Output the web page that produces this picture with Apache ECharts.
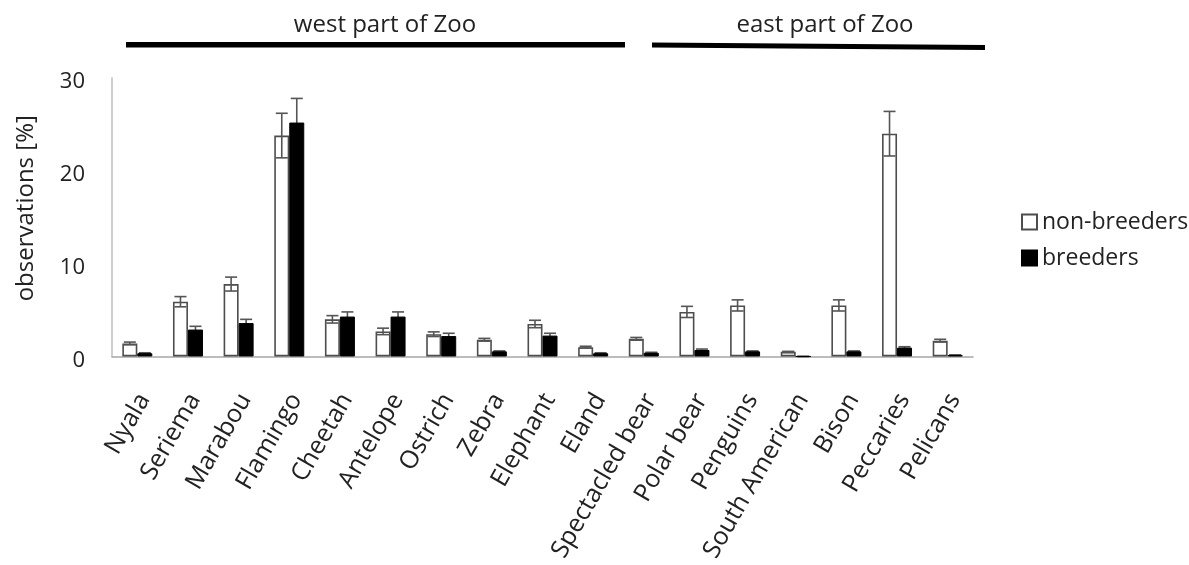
<!DOCTYPE html>
<html>
<head>
<meta charset="utf-8">
<style>
  html, body { margin: 0; padding: 0; background: #fff; }
  #chart { width: 1189px; height: 565px; }
</style>
<script src="https://cdn.jsdelivr.net/npm/echarts@6/dist/echarts.min.js"></script>
</head>
<body>
<div id="chart"></div>
<script>
// Share of observations per enclosure, split by breeding status
const categories = ['Nyala', 'Seriema', 'Marabou', 'Flamingo', 'Cheetah', 'Antelope', 'Ostrich', 'Zebra',
  'Elephant', 'Eland', 'Spectacled bear', 'Polar bear', 'Penguins', 'South American', 'Bison', 'Peccaries', 'Pelicans'];
const nonBreeders    = [1.4, 5.9, 7.8, 23.8, 4.0, 2.7, 2.4, 1.8, 3.5, 1.0, 1.9, 4.8, 5.5, 0.5, 5.5, 24.0, 1.7];
const nonBreedersErr = [0.15, 0.55, 0.75, 2.4, 0.4, 0.35, 0.25, 0.15, 0.4, 0.1, 0.15, 0.6, 0.6, 0.05, 0.6, 2.4, 0.15];
const breeders       = [0.35, 2.9, 3.6, 25.2, 4.3, 4.3, 2.2, 0.55, 2.25, 0.35, 0.4, 0.7, 0.55, 0, 0.55, 0.95, 0.15];
const breedersErr    = [0.05, 0.35, 0.4, 2.6, 0.5, 0.5, 0.3, 0.05, 0.25, 0.05, 0.05, 0.1, 0.05, 0, 0.05, 0.1, 0.03];
const yTicks = [0, 10, 20, 30];

const FONT = "'Open Sans', sans-serif";
const TEXT = '#222';
const BAR_W = 15;
const CAP_W = 12;

const chart = echarts.init(document.getElementById('chart'));

// whisker drawn at a bar's centre: vertical line from value-err to value+err with caps
function errorBar(values, errs, shift) {
  return function (params, api) {
    const i = api.value(0);
    const v = values[i], e = errs[i];
    const c = api.coord([i, v]);
    const x = c[0] + shift;
    const hi = api.coord([i, v + e])[1];
    const lo = api.coord([i, Math.max(0, v - e)])[1];
    const style = { stroke: '#555', lineWidth: 1.6 };
    return {
      type: 'group',
      children: [
        { type: 'line', shape: { x1: x, y1: lo, x2: x, y2: hi }, style },
        { type: 'line', shape: { x1: x - CAP_W / 2, y1: hi, x2: x + CAP_W / 2, y2: hi }, style },
        { type: 'line', shape: { x1: x - CAP_W / 2, y1: lo, x2: x + CAP_W / 2, y2: lo }, style }
      ]
    };
  };
}

const idx = categories.map((_, i) => [i]);

chart.setOption({
  backgroundColor: '#fff',
  animation: false,
  grid: { left: 112, right: 216, top: 78, bottom: 205 },
  legend: {
    data: ['non-breeders', 'breeders'],
    orient: 'vertical',
    left: 1016,
    top: 204,
    itemWidth: 15,
    itemHeight: 15,
    itemGap: 10,
    icon: 'rect',
    textStyle: { fontFamily: FONT, fontSize: 23, color: TEXT, lineHeight: 26 }
  },
  xAxis: {
    type: 'category',
    data: categories,
    axisLine: { lineStyle: { color: '#a6a6a6', width: 1.5 } },
    axisTick: { show: false },
    axisLabel: {
      interval: 0,
      rotate: 60,
      verticalAlign: 'top',
      lineHeight: 16,
      margin: 35,
      fontFamily: FONT,
      fontSize: 25,
      color: TEXT
    }
  },
  yAxis: {
    type: 'value',
    min: 0,
    max: 30,
    interval: 10,
    name: 'observations [%]',
    nameLocation: 'middle',
    nameGap: 74,
    nameTextStyle: { fontFamily: FONT, fontSize: 24, color: TEXT, padding: [0, 0, 0, 18] },
    axisLine: { show: true, lineStyle: { color: '#bfbfbf', width: 1.5 } },
    axisTick: { show: false },
    splitLine: { show: false },
    axisLabel: {
      margin: 27,
      verticalAlign: 'top',
      lineHeight: 8,
      fontFamily: FONT,
      fontSize: 22,
      color: TEXT,
      formatter: v => (yTicks.includes(v) ? String(v) : '')
    }
  },
  series: [
    {
      name: 'non-breeders',
      type: 'bar',
      data: nonBreeders,
      barWidth: BAR_W,
      barGap: '0%',
      z: 2,
      itemStyle: { color: '#fff', borderColor: '#4d4d4d', borderWidth: 1.6 }
    },
    {
      name: 'breeders',
      type: 'bar',
      data: breeders,
      barWidth: BAR_W,
      barGap: '0%',
      z: 2,
      itemStyle: { color: '#000', borderColor: '#000', borderWidth: 1 }
    },
    {
      name: 'nb-err',
      type: 'custom',
      data: idx,
      z: 3,
      renderItem: errorBar(nonBreeders, nonBreedersErr, -BAR_W / 2),
      encode: { x: 0 }
    },
    {
      name: 'b-err',
      type: 'custom',
      data: idx,
      z: 1,
      renderItem: errorBar(breeders, breedersErr, BAR_W / 2),
      encode: { x: 0 }
    }
  ],
  graphic: [
    {
      type: 'text',
      style: { text: 'west part of Zoo', x: 385, y: 25, font: "24px 'Open Sans', sans-serif", fill: TEXT, align: 'center', verticalAlign: 'middle' }
    },
    {
      type: 'text',
      style: { text: 'east part of Zoo', x: 825, y: 25, font: "24px 'Open Sans', sans-serif", fill: TEXT, align: 'center', verticalAlign: 'middle' }
    },
    {
      type: 'line',
      shape: { x1: 126, y1: 44.7, x2: 625, y2: 44.7 },
      style: { stroke: '#000', lineWidth: 5.5 }
    },
    {
      type: 'polygon',
      shape: { points: [[652, 42.5], [985, 45], [985, 50], [652, 47.5]] },
      style: { fill: '#000' }
    }
  ]
});
</script>
</body>
</html>
